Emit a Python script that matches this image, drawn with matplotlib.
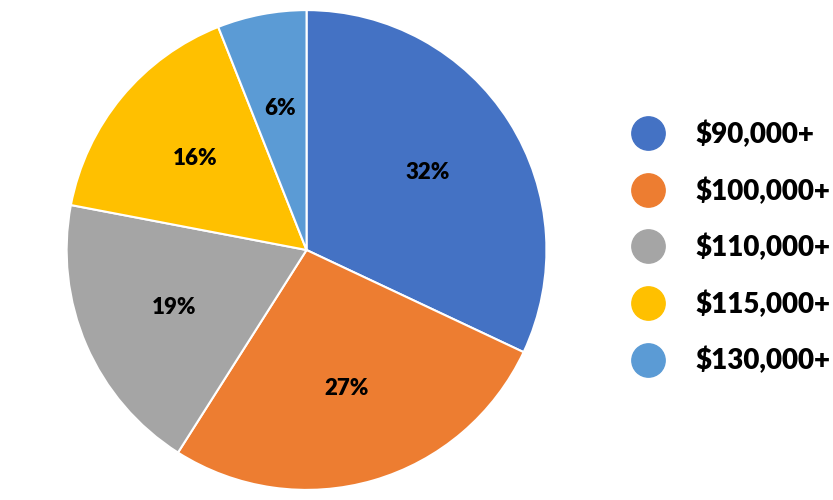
import matplotlib.pyplot as plt
from matplotlib.lines import Line2D

labels = ['$90,000+', '$100,000+', '$110,000+', '$115,000+', '$130,000+']
shares = [32, 27, 19, 16, 6]
colors = ['#4472C4', '#ED7D31', '#A5A5A5', '#FFC000', '#5B9BD5']

plt.rcParams['font.family'] = ['Lato', 'DejaVu Sans']

fig = plt.figure(figsize=(8.33, 5), dpi=100)
ax = fig.add_axes([0.08, 0.02, 0.576, 0.96])
wedges, texts, autotexts = ax.pie(
    shares, colors=colors, startangle=90, counterclock=False,
    autopct='%d%%', pctdistance=0.6,
    wedgeprops=dict(edgecolor='white', linewidth=1.5),
    textprops=dict(fontsize=16, fontweight='heavy', color='black'))
ax.set_xlim(-1.0, 1.0)
ax.set_ylim(-1.0, 1.0)
ax.set_aspect('equal')

handles = [Line2D([0], [0], marker='o', linestyle='', markersize=24,
                  markerfacecolor=c, markeredgecolor=c) for c in colors]
fig.legend(handles, labels, loc='center left', bbox_to_anchor=(0.715, 0.505),
           frameon=False, labelspacing=1.05, handletextpad=0.7,
           prop=dict(size=20, weight='heavy'))

fig.savefig('out.png', dpi=100)
